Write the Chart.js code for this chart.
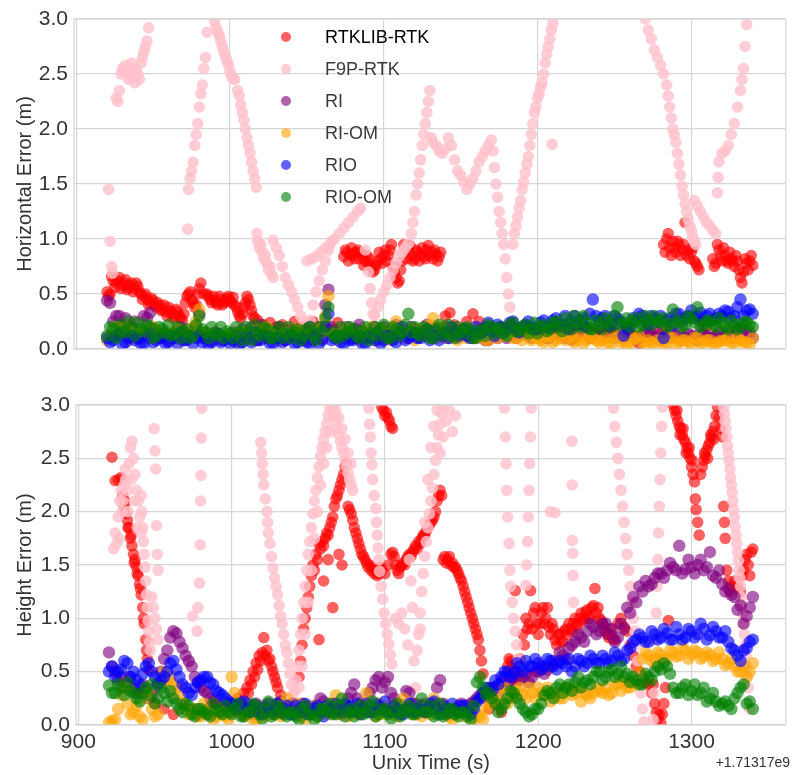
<!DOCTYPE html>
<html><head><meta charset="utf-8">
<script src="https://cdn.jsdelivr.net/npm/chart.js@4/dist/chart.umd.min.js"></script>
<style>
body{margin:0;background:#fff;width:792px;height:775px;position:relative;overflow:hidden;font-family:'Liberation Sans',Arial,sans-serif;}
#c1{position:absolute;left:0;top:0;}
#c2{position:absolute;left:0;top:380px;}
.li{position:absolute;left:281px;height:20px;display:flex;align-items:center;font-size:18px;color:#3a3a3a;white-space:nowrap;}
.dot{width:10px;height:10px;border-radius:50%;margin-right:34px;}
</style></head><body>
<canvas id="c1" width="792" height="380"></canvas>
<canvas id="c2" width="792" height="395"></canvas>
<div id="legend"></div>
<script>
// ---------- labels / ticks ----------
const seriesNames = ['RTKLIB-RTK','F9P-RTK','RI','RI-OM','RIO','RIO-OM'];
const xTickValues = [900,1000,1100,1200,1300];
const xTickLabels = ['900','1000','1100','1200','1300'];
const yTickValues = [0,0.5,1,1.5,2,2.5,3];
const yTickLabels = ['0.0','0.5','1.0','1.5','2.0','2.5','3.0'];
const topYTitle = 'Horizontal Error (m)';
const botYTitle = 'Height Error (m)';
const xTitle = 'Unix Time (s)';
const offsetLabel = '+1.71317e9';

// ---------- two interleaved time grids for the dense band series ----------
const T4 = [920,924,928,932,936,940,944,948,952,956,
960,964,968,972,976,980,984,988,992,996,
1000,1004,1008,1012,1016,1020,1024,1028,1032,1036,
1040,1044,1048,1052,1056,1060,1064,1068,1072,1076,
1080,1084,1088,1092,1096,1100,1104,1108,1112,1116,
1120,1124,1128,1132,1136,1140,1144,1148,1152,1156,
1160,1164,1168,1172,1176,1180,1184,1188,1192,1196,
1200,1204,1208,1212,1216,1220,1224,1228,1232,1236,
1240,1244,1248,1252,1256,1260,1264,1268,1272,1276,
1280,1284,1288,1292,1296,1300,1304,1308,1312,1316,
1320,1324,1328,1332,1336,1340];
const T4B = [922,926,930,934,938,942,946,950,954,958,
962,966,970,974,978,982,986,990,994,998,
1002,1006,1010,1014,1018,1022,1026,1030,1034,1038,
1042,1046,1050,1054,1058,1062,1066,1070,1074,1078,
1082,1086,1090,1094,1098,1102,1106,1110,1114,1118,
1122,1126,1130,1134,1138,1142,1146,1150,1154,1158,
1162,1166,1170,1174,1178,1182,1186,1190,1194,1198,
1202,1206,1210,1214,1218,1222,1226,1230,1234,1238,
1242,1246,1250,1254,1258,1262,1266,1270,1274,1278,
1282,1286,1290,1294,1298,1302,1306,1310,1314,1318,
1322,1326,1330,1334,1338];

// ---------- TOP: horizontal error ----------
const riTop = [0.44,0.25,0.3,0.28,0.2,0.15,0.3,0.33,0.15,0.1,
0.08,0.12,0.2,0.1,0.15,0.32,0.1,0.08,0.14,0.1,
0.12,0.08,0.18,0.1,0.12,0.22,0.1,0.16,0.2,0.08,
0.1,0.15,0.08,0.2,0.12,0.1,0.54,0.16,0.1,0.2,
0.14,0.22,0.1,0.16,0.08,0.2,0.12,0.22,0.14,0.1,
0.18,0.12,0.22,0.1,0.15,0.2,0.12,0.1,0.18,0.12,
0.1,0.14,0.08,0.12,0.18,0.1,0.15,0.12,0.2,0.1,
0.12,0.18,0.1,0.15,0.12,0.2,0.1,0.14,0.18,0.12,
0.15,0.1,0.18,0.12,0.1,0.15,0.08,0.12,0.2,0.1,
0.08,0.12,0.1,0.15,0.1,0.12,0.08,0.14,0.1,0.12,
0.1,0.15,0.12,0.2,0.14,0.1];
const riTopB = [0.42,0.3,0.22,0.18,0.25,0.1,0.28,0.18,0.12,0.15,
0.1,0.15,0.08,0.14,0.2,0.1,0.12,0.15,0.08,0.12,
0.15,0.1,0.12,0.2,0.08,0.14,0.18,0.1,0.12,0.15,
0.12,0.1,0.18,0.08,0.15,0.4,0.2,0.12,0.15,0.1,
0.18,0.1,0.14,0.2,0.12,0.16,0.1,0.18,0.12,0.2,
0.1,0.16,0.12,0.2,0.14,0.1,0.18,0.12,0.15,0.1,
0.12,0.08,0.15,0.1,0.14,0.12,0.1,0.16,0.12,0.15,
0.15,0.1,0.14,0.18,0.1,0.15,0.12,0.2,0.1,0.14,
0.12,0.18,0.1,0.15,0.2,0.12,0.1,0.16,0.12,0.15,
0.1,0.15,0.12,0.08,0.14,0.1,0.15,0.12,0.1,0.15,
0.12,0.1,0.18,0.12,0.15];
const riomTop = [0.08,0.12,0.15,0.2,0.1,0.14,0.18,0.1,0.16,0.12,
0.1,0.15,0.08,0.12,0.2,0.36,0.15,0.1,0.12,0.08,
0.12,0.06,0.15,0.1,0.08,0.14,0.2,0.12,0.08,0.15,
0.1,0.18,0.08,0.12,0.15,0.1,0.48,0.14,0.1,0.18,
0.12,0.08,0.15,0.2,0.1,0.14,0.08,0.25,0.12,0.15,
0.08,0.18,0.12,0.28,0.15,0.1,0.18,0.08,0.15,0.12,
0.1,0.15,0.08,0.12,0.2,0.14,0.1,0.15,0.12,0.08,
0.1,0.06,0.12,0.08,0.15,0.1,0.06,0.12,0.08,0.1,
0.06,0.1,0.05,0.12,0.08,0.05,0.1,0.06,0.08,0.04,
0.08,0.05,0.1,0.06,0.08,0.04,0.1,0.06,0.08,0.05,
0.07,0.1,0.05,0.08,0.06,0.1];
const riomTopB = [0.1,0.2,0.12,0.08,0.16,0.12,0.14,0.2,0.1,0.15,
0.12,0.18,0.1,0.15,0.25,0.12,0.08,0.14,0.1,0.12,
0.08,0.14,0.1,0.12,0.18,0.1,0.15,0.08,0.12,0.1,
0.14,0.1,0.12,0.08,0.18,0.3,0.12,0.08,0.15,0.1,
0.1,0.15,0.12,0.08,0.18,0.1,0.2,0.12,0.1,0.18,
0.12,0.15,0.22,0.1,0.2,0.14,0.12,0.18,0.1,0.12,
0.12,0.08,0.15,0.1,0.12,0.18,0.1,0.08,0.14,0.1,
0.08,0.12,0.06,0.1,0.08,0.12,0.08,0.05,0.12,0.08,
0.08,0.05,0.1,0.06,0.04,0.08,0.12,0.05,0.06,0.08,
0.05,0.1,0.04,0.08,0.06,0.1,0.05,0.08,0.04,0.07,
0.08,0.05,0.1,0.06,0.04];
const rioTop = [0.1,0.08,0.14,0.06,0.12,0.1,0.05,0.14,0.08,0.12,
0.06,0.1,0.15,0.08,0.05,0.12,0.1,0.06,0.14,0.08,
0.05,0.12,0.06,0.1,0.15,0.08,0.12,0.05,0.1,0.08,
0.12,0.06,0.1,0.05,0.14,0.08,0.32,0.1,0.06,0.12,
0.08,0.12,0.05,0.1,0.15,0.08,0.12,0.06,0.2,0.1,
0.15,0.1,0.18,0.12,0.08,0.15,0.2,0.12,0.18,0.1,
0.2,0.15,0.24,0.12,0.2,0.18,0.25,0.15,0.22,0.2,
0.18,0.26,0.2,0.28,0.22,0.18,0.3,0.26,0.2,0.45,
0.25,0.3,0.22,0.28,0.12,0.2,0.25,0.3,0.22,0.28,
0.3,0.26,0.22,0.32,0.28,0.35,0.3,0.25,0.32,0.28,
0.3,0.34,0.3,0.45,0.35,0.32];
const rioTopB = [0.06,0.12,0.04,0.1,0.08,0.05,0.12,0.06,0.1,0.05,
0.12,0.05,0.08,0.12,0.1,0.06,0.04,0.12,0.06,0.1,
0.08,0.04,0.12,0.06,0.08,0.12,0.05,0.1,0.06,0.12,
0.05,0.1,0.06,0.12,0.05,0.2,0.08,0.12,0.05,0.08,
0.1,0.05,0.12,0.08,0.05,0.12,0.08,0.14,0.08,0.12,
0.1,0.14,0.08,0.16,0.12,0.1,0.16,0.14,0.12,0.16,
0.14,0.2,0.16,0.22,0.15,0.24,0.18,0.2,0.25,0.18,
0.24,0.2,0.26,0.22,0.3,0.25,0.22,0.28,0.32,0.3,
0.28,0.22,0.3,0.25,0.2,0.28,0.32,0.26,0.3,0.25,
0.1,0.28,0.32,0.25,0.3,0.28,0.33,0.3,0.26,0.32,
0.35,0.28,0.38,0.3,0.36];
const rioomTop = [0.12,0.18,0.22,0.15,0.2,0.24,0.16,0.2,0.12,0.18,
0.22,0.14,0.1,0.18,0.12,0.3,0.15,0.2,0.12,0.1,
0.14,0.2,0.08,0.16,0.22,0.12,0.18,0.1,0.2,0.14,
0.1,0.18,0.12,0.2,0.08,0.16,0.38,0.12,0.2,0.15,
0.18,0.1,0.2,0.14,0.12,0.22,0.1,0.18,0.15,0.32,
0.2,0.12,0.18,0.1,0.22,0.15,0.12,0.2,0.14,0.18,
0.1,0.18,0.22,0.14,0.2,0.12,0.24,0.16,0.22,0.18,
0.14,0.22,0.18,0.25,0.16,0.22,0.3,0.2,0.24,0.18,
0.22,0.28,0.2,0.38,0.24,0.2,0.28,0.22,0.26,0.3,
0.24,0.2,0.36,0.26,0.22,0.28,0.38,0.22,0.25,0.2,
0.24,0.18,0.22,0.2,0.25,0.2];
const rioomTopB = [0.2,0.1,0.16,0.25,0.12,0.18,0.22,0.1,0.2,0.14,
0.12,0.2,0.16,0.1,0.22,0.18,0.1,0.14,0.2,0.16,
0.1,0.15,0.2,0.08,0.14,0.2,0.1,0.16,0.1,0.2,
0.15,0.08,0.18,0.12,0.2,0.28,0.15,0.1,0.12,0.2,
0.12,0.16,0.08,0.2,0.18,0.1,0.2,0.12,0.22,0.15,
0.14,0.2,0.1,0.18,0.12,0.22,0.1,0.16,0.2,0.1,
0.16,0.12,0.2,0.18,0.14,0.22,0.16,0.2,0.14,0.24,
0.2,0.16,0.24,0.2,0.28,0.18,0.24,0.3,0.18,0.26,
0.18,0.24,0.3,0.22,0.28,0.25,0.2,0.3,0.22,0.25,
0.28,0.22,0.25,0.2,0.3,0.24,0.2,0.26,0.22,0.28,
0.2,0.26,0.18,0.24,0.22];

const rtkTop = [[920,0.52],[921,0.48],[922,0.5],[923,0.66],[924,0.62],[925,0.56],[926,0.6],[927,0.62],[928,0.65],[929,0.55],[930,0.58],[931,0.6],[932,0.63],[933,0.54],[934,0.56],[935,0.58],[936,0.6],[937,0.52],[938,0.55],[939,0.6],[940,0.57],[941,0.52],[942,0.5],[943,0.45],[944,0.48],[945,0.5],[946,0.45],[947,0.4],[948,0.42],[949,0.46],[950,0.44],[951,0.4],[952,0.38],[953,0.42],[954,0.4],[955,0.35],[956,0.36],[957,0.4],[958,0.34],[959,0.3],[960,0.38],[961,0.35],[962,0.32],[963,0.28],[964,0.3],[965,0.36],[966,0.34],[967,0.3],[968,0.28],[969,0.26],[970,0.32],[971,0.42],[972,0.48],[973,0.5],[974,0.52],[975,0.45],[976,0.42],[977,0.38],[978,0.4],[979,0.5],[980,0.55],[981,0.6],[983,0.5],[985,0.5],[986,0.48],[987,0.45],[988,0.42],[989,0.48],[990,0.44],[991,0.42],[992,0.4],[993,0.48],[994,0.45],[995,0.4],[996,0.42],[997,0.44],[998,0.46],[999,0.48],[1000,0.44],[1001,0.42],[1002,0.47],[1003,0.4],[1004,0.38],[1005,0.34],[1006,0.3],[1007,0.28],[1008,0.32],[1009,0.38],[1010,0.42],[1011,0.48],[1012,0.45],[1013,0.4],[1014,0.35],[1015,0.3],[1016,0.28],[1018,0.26],[1022,0.22],[1026,0.24],[1030,0.2],[1034,0.22],[1038,0.18],[1042,0.25],[1046,0.2],[1050,0.22],[1054,0.25],[1058,0.2],[1062,0.22],[1066,0.18],[1070,0.24],
[1074,0.84],[1075,0.9],[1076,0.88],[1077,0.8],[1078,0.86],[1079,0.92],[1080,0.85],[1081,0.82],[1082,0.88],[1083,0.9],[1084,0.82],[1085,0.88],[1086,0.85],[1087,0.76],[1088,0.8],[1089,0.85],[1090,0.78],[1091,0.82],[1092,0.75],[1093,0.7],[1094,0.72],[1095,0.76],[1096,0.8],[1097,0.88],[1098,0.82],[1099,0.78],[1100,0.85],[1101,0.9],[1102,0.8],[1103,0.85],[1104,0.9],[1105,0.95],[1106,0.75],[1107,0.7],[1108,0.65],[1109,0.6],[1110,0.62],[1111,0.72],[1112,0.8],[1113,0.95],[1114,0.88],[1115,0.82],[1116,0.9],[1117,0.94],[1118,0.85],[1119,0.8],[1120,0.82],[1121,0.9],[1122,0.88],[1123,0.8],[1124,0.86],[1125,0.92],[1126,0.84],[1127,0.82],[1128,0.9],[1129,0.94],[1130,0.85],[1131,0.88],[1132,0.82],[1133,0.9],[1134,0.86],[1135,0.8],[1136,0.84],[1137,0.88],
[1140,0.3],[1143,0.33],[1146,0.22],[1150,0.18],[1154,0.25],[1158,0.32],[1162,0.25],[1166,0.15],[1170,0.2],[1174,0.12],[1178,0.18],[1182,0.22],[1186,0.15],[1190,0.2],[1194,0.12],[1198,0.18],[1202,0.1],[1206,0.15],[1210,0.2],[1214,0.12],[1218,0.18],[1222,0.08],[1226,0.15],[1230,0.2],[1234,0.1],[1238,0.16],[1242,0.12],[1246,0.18],[1250,0.15],[1254,0.1],[1258,0.2],[1262,0.12],[1266,0.05],[1270,0.1],[1274,0.15],[1278,0.12],[1281,0.2],
[1282,0.95],[1283,0.88],[1284,1.0],[1285,1.05],[1286,0.92],[1287,0.85],[1288,0.98],[1289,0.92],[1290,0.88],[1291,0.98],[1292,0.95],[1293,0.85],[1294,0.9],[1295,0.95],[1296,1.15],[1297,0.85],[1298,0.9],[1299,0.82],[1300,0.88],[1301,0.92],[1302,0.8],[1303,0.78],[1304,0.75],[1305,0.72],[1306,0.25],[1310,0.2],
[1314,0.82],[1315,0.75],[1316,0.78],[1317,0.95],[1318,0.9],[1319,0.85],[1320,0.8],[1321,0.92],[1322,0.85],[1323,0.8],[1324,0.78],[1325,0.88],[1326,0.82],[1327,0.8],[1328,0.75],[1329,0.85],[1330,0.8],[1331,0.72],[1332,0.65],[1333,0.6],[1334,0.7],[1335,0.82],[1336,0.78],[1337,0.72],[1338,0.8],[1339,0.85],[1340,0.76]];

const f9pTop = [[921,1.45],[922,0.98],[923,0.75],[923.5,0.69],
[926,2.28],[927,2.25],[928,2.35],[929,2.5],[930,2.55],[931,2.52],[932,2.58],[933,2.5],[934,2.45],[935,2.55],[936,2.6],[937,2.48],[938,2.42],[939,2.55],[940,2.5],[941,2.45],[942,2.6],[943,2.65],[944,2.7],[945,2.75],[946,2.8],[947,2.92],
[972.5,1.09],[973,1.45],[974,1.55],[975,1.62],[976,1.7],[977,1.85],[978,1.95],[979,2.05],[980,2.2],[981,2.32],[982,2.4],[983,2.55],[984,2.65],[985,2.88],
[990,2.98],[991,2.92],[992,2.88],[993,2.85],[994,2.8],[995,2.75],[996,2.7],[997,2.66],[998,2.62],[999,2.58],[1000,2.52],[1001,2.48],[1002,2.46],[1003,2.45],[1005,2.35],[1006,2.3],[1007,2.22],[1008,2.15],[1009,2.08],[1010,2.0],[1011,1.92],[1012,1.85],[1013,1.78],[1014,1.7],[1015,1.62],[1016,1.55],[1017,1.47],
[1017.5,1.05],[1018,0.98],[1019,0.92],[1020,0.95],[1021,0.88],[1022,0.82],[1023,0.85],[1024,0.78],[1025,0.72],[1026,0.75],[1027,0.68],[1028,0.65],
[1028,0.99],[1030,0.92],[1032,0.85],[1034,0.75],[1036,0.65],[1038,0.58],[1040,0.52],[1042,0.45],[1044,0.38],[1046,0.3],[1048,0.25],[1050,0.2],[1051,0.15],
[1052,0.26],[1054,0.4],[1056,0.52],[1058,0.62],[1060,0.72],[1062,0.8],[1064,0.9],[1066,0.98],
[1050,0.8],[1053,0.82],[1056,0.84],[1059,0.88],[1062,0.92],[1065,0.95],[1068,1.0],[1071,1.05],[1074,1.1],[1077,1.15],[1080,1.2],[1083,1.25],[1085,1.28],
[1088,0.9],[1090,0.7],[1091,0.55],[1092,0.42],[1093,0.32],[1094,0.3],[1096,0.38],[1098,0.45],[1100,0.52],[1102,0.58],[1104,0.65],[1106,0.72],[1108,0.78],[1110,0.84],[1112,0.88],[1114,0.92],[1116,0.96],[1118,1.05],[1119,1.15],[1120,1.25],[1121,1.4],[1122,1.5],[1123,1.6],[1124,1.72],[1125,1.85],[1126,1.95],[1127,2.05],[1128,2.15],[1129,2.25],[1130,2.35],
[1131,1.92],[1132,1.88],[1134,1.85],[1136,1.8],[1138,1.78],[1140,1.82],[1142,1.92],[1144,1.85],[1146,1.72],[1148,1.62],[1150,1.58],[1152,1.52],[1154,1.45],[1156,1.5],[1158,1.55],[1160,1.62],[1162,1.7],[1164,1.75],[1166,1.8],[1168,1.85],[1170,1.9],[1171,1.8],[1172,1.65],[1173,1.5],[1174,1.38],[1175,1.25],[1176,1.15],[1177,1.05],[1178,0.95],[1179,0.82],[1180,0.65],[1181,0.5],[1182,0.38],
[1184,0.95],[1185,1.05],[1186,1.12],[1187,1.2],[1188,1.28],[1189,1.35],[1190,1.45],[1191,1.52],[1192,1.6],[1193,1.68],[1194,1.75],[1195,1.85],[1196,1.95],[1197,2.05],[1198,2.15],[1199,2.2],[1200,2.28],[1201,2.32],[1202,2.38],[1203,2.42],[1204,2.5],[1205,2.6],[1206,2.68],[1207,2.75],[1208,2.82],[1209,2.9],[1210,2.96],[1209.5,1.86],
[1270,3.0],[1272,2.9],[1274,2.82],[1276,2.72],[1278,2.65],[1280,2.58],[1282,2.5],[1284,2.4],[1285,2.3],[1286,2.2],[1287,2.1],[1288,2.0],[1289,1.95],[1290,1.88],[1291,1.78],[1292,1.68],[1293,1.58],[1294,1.48],[1295,1.4],[1296,1.32],[1297,1.25],[1298,1.18],[1299,1.12],[1300,1.08],[1301,1.02],[1302,0.98],[1303,0.95],
[1302,1.35],[1304,1.3],[1306,1.25],[1308,1.2],[1310,1.15],[1312,1.12],[1314,1.08],[1316,1.05],
[1317,1.42],[1317.5,1.56],[1318,1.7],[1320,1.78],[1322,1.8],[1324,1.85],[1326,1.95],[1328,2.05],[1330,2.2],[1332,2.35],[1333,2.45],[1334,2.55],[1335,2.75],[1336,2.95]];

// ---------- BOTTOM: height error ----------
const riBot = [0.68,0.5,0.45,0.4,0.35,0.3,0.32,0.28,0.4,0.62,
0.82,0.86,0.72,0.6,0.45,0.35,0.3,0.22,0.18,0.15,
0.12,0.18,0.1,0.15,0.2,0.12,0.15,0.1,0.22,0.15,
0.2,0.12,0.18,0.1,0.15,0.22,0.12,0.18,0.1,0.25,
0.38,0.2,0.15,0.35,0.45,0.4,0.3,0.2,0.15,0.3,
0.2,0.15,0.12,0.2,0.42,0.15,0.1,0.18,0.12,0.2,
0.25,0.3,0.28,0.35,0.4,0.38,0.45,0.42,0.48,0.45,
0.5,0.48,0.55,0.58,0.65,0.72,0.78,0.82,0.88,0.92,
0.88,0.95,0.9,0.82,0.9,1.05,1.15,1.25,1.3,1.38,
1.42,1.45,1.48,1.68,1.46,1.48,1.5,1.45,1.62,1.38,
1.32,1.28,1.2,1.12,1.02,1.2];
const riBotB = [0.55,0.42,0.35,0.45,0.3,0.38,0.25,0.35,0.5,0.7,
0.88,0.78,0.65,0.55,0.4,0.32,0.25,0.2,0.15,0.2,
0.15,0.12,0.2,0.1,0.15,0.18,0.12,0.2,0.12,0.18,
0.15,0.2,0.12,0.18,0.25,0.15,0.2,0.12,0.18,0.3,
0.25,0.18,0.3,0.42,0.35,0.45,0.25,0.18,0.32,0.2,
0.15,0.2,0.18,0.35,0.2,0.12,0.15,0.2,0.15,0.22,
0.28,0.25,0.35,0.3,0.45,0.4,0.5,0.45,0.4,0.5,
0.55,0.52,0.6,0.68,0.62,0.75,0.85,0.78,0.95,0.85,
0.95,0.85,0.78,0.95,1.1,1.2,1.3,1.35,1.32,1.42,
1.38,1.52,1.45,1.42,1.55,1.42,1.55,1.48,1.4,1.45,
1.25,1.22,1.08,0.95,1.1];
const riomBot = [0.02,0.05,0.28,0.2,0.12,0.08,0.25,0.15,0.1,0.5,
0.45,0.35,0.2,0.1,0.15,0.08,0.12,0.05,0.1,0.08,
0.45,0.15,0.08,0.12,0.05,0.1,0.2,0.12,0.08,0.25,
0.1,0.2,0.05,0.12,0.08,0.15,0.1,0.28,0.12,0.08,
0.15,0.1,0.3,0.12,0.2,0.1,0.15,0.08,0.25,0.12,
0.1,0.08,0.2,0.25,0.15,0.1,0.05,0.12,0.08,0.15,
0.1,0.05,0.2,0.25,0.3,0.2,0.28,0.35,0.25,0.3,
0.35,0.28,0.22,0.3,0.25,0.32,0.3,0.22,0.28,0.3,
0.32,0.35,0.3,0.38,0.4,0.35,0.38,0.62,0.65,0.62,
0.66,0.62,0.68,0.65,0.7,0.66,0.68,0.64,0.66,0.62,
0.62,0.58,0.55,0.5,0.45,0.58];
const riomBotB = [0.04,0.15,0.35,0.1,0.18,0.05,0.3,0.08,0.4,0.42,
0.38,0.28,0.15,0.12,0.08,0.2,0.1,0.08,0.12,0.05,
0.3,0.12,0.1,0.05,0.15,0.08,0.12,0.1,0.2,0.12,
0.15,0.08,0.12,0.18,0.1,0.12,0.2,0.1,0.15,0.12,
0.1,0.2,0.15,0.08,0.12,0.18,0.1,0.2,0.15,0.1,
0.12,0.15,0.1,0.2,0.12,0.08,0.1,0.15,0.1,0.05,
0.08,0.15,0.25,0.2,0.35,0.25,0.32,0.28,0.35,0.25,
0.3,0.35,0.28,0.25,0.35,0.28,0.35,0.3,0.25,0.35,
0.3,0.28,0.38,0.32,0.35,0.4,0.5,0.68,0.6,0.68,
0.62,0.7,0.64,0.72,0.62,0.7,0.62,0.68,0.6,0.68,
0.56,0.62,0.5,0.55,0.5];
const rioBot = [0.5,0.45,0.52,0.58,0.5,0.38,0.55,0.5,0.38,0.45,
0.58,0.52,0.38,0.3,0.35,0.42,0.45,0.38,0.3,0.25,
0.2,0.15,0.22,0.12,0.18,0.1,0.2,0.15,0.12,0.18,
0.1,0.15,0.2,0.12,0.18,0.08,0.15,0.2,0.12,0.18,
0.15,0.1,0.2,0.12,0.18,0.22,0.12,0.15,0.1,0.2,
0.12,0.18,0.15,0.22,0.1,0.15,0.2,0.12,0.18,0.1,
0.22,0.3,0.35,0.42,0.45,0.5,0.48,0.55,0.6,0.55,
0.58,0.55,0.6,0.52,0.58,0.62,0.55,0.6,0.58,0.62,
0.58,0.62,0.6,0.65,0.62,0.72,0.8,0.82,0.78,0.85,
0.82,0.86,0.8,0.85,0.82,0.88,0.85,0.9,0.84,0.88,
0.82,0.78,0.7,0.6,0.72,0.8];
const rioBotB = [0.55,0.5,0.6,0.45,0.42,0.48,0.58,0.45,0.42,0.5,
0.6,0.45,0.35,0.28,0.4,0.45,0.4,0.32,0.28,0.22,
0.18,0.2,0.15,0.18,0.12,0.16,0.12,0.2,0.15,0.1,
0.18,0.12,0.1,0.16,0.12,0.18,0.12,0.15,0.2,0.12,
0.2,0.15,0.12,0.2,0.15,0.12,0.18,0.1,0.15,0.12,
0.15,0.12,0.2,0.15,0.18,0.12,0.15,0.18,0.12,0.15,
0.25,0.35,0.32,0.38,0.5,0.45,0.58,0.5,0.55,0.62,
0.52,0.62,0.55,0.6,0.55,0.5,0.62,0.55,0.65,0.58,
0.65,0.58,0.68,0.6,0.7,0.78,0.85,0.78,0.88,0.8,
0.9,0.8,0.92,0.8,0.9,0.82,0.95,0.8,0.92,0.82,
0.88,0.72,0.65,0.7,0.78];
const rioomBot = [0.37,0.3,0.35,0.4,0.3,0.22,0.35,0.38,0.25,0.3,
0.32,0.2,0.12,0.18,0.08,0.15,0.1,0.2,0.12,0.18,
0.1,0.2,0.08,0.12,0.18,0.06,0.22,0.1,0.15,0.08,
0.12,0.05,0.18,0.1,0.08,0.15,0.2,0.1,0.25,0.12,
0.08,0.18,0.12,0.22,0.1,0.15,0.06,0.2,0.12,0.18,
0.1,0.25,0.12,0.08,0.2,0.1,0.15,0.08,0.12,0.05,
0.4,0.35,0.3,0.2,0.15,0.25,0.3,0.2,0.12,0.1,
0.15,0.28,0.3,0.35,0.3,0.38,0.4,0.35,0.42,0.45,
0.5,0.45,0.52,0.48,0.45,0.4,0.42,0.38,0.45,0.5,
0.52,0.55,0.35,0.3,0.38,0.32,0.28,0.35,0.25,0.22,
0.2,0.18,0.25,0.35,0.2,0.15];
const rioomBotB = [0.3,0.38,0.28,0.32,0.25,0.3,0.28,0.2,0.35,0.22,
0.25,0.15,0.2,0.1,0.15,0.12,0.08,0.15,0.1,0.12,
0.15,0.08,0.12,0.2,0.1,0.15,0.08,0.18,0.1,0.12,
0.08,0.15,0.1,0.05,0.15,0.12,0.1,0.18,0.08,0.15,
0.12,0.1,0.18,0.08,0.15,0.1,0.12,0.08,0.15,0.1,
0.15,0.12,0.18,0.1,0.08,0.15,0.1,0.12,0.08,0.18,
0.45,0.28,0.25,0.12,0.2,0.32,0.25,0.15,0.08,0.15,
0.2,0.32,0.25,0.38,0.35,0.32,0.45,0.4,0.38,0.5,
0.42,0.5,0.45,0.55,0.48,0.45,0.38,0.48,0.42,0.55,
0.58,0.48,0.3,0.35,0.28,0.38,0.3,0.22,0.3,0.18,
0.22,0.15,0.3,0.38,0.22];

const rtkBot = [[922,2.51],[924,2.29],[926,2.3],[928,2.32],[929,2.15],[930,2.05],[930.5,2.1],[931,1.98],[932,1.92],[932.5,1.85],[933,1.85],[934,1.75],[934.5,1.78],[935,1.68],[936,1.6],[936.5,1.52],[937,1.55],[938,1.48],[938.5,1.42],[939,1.4],[940,1.32],[940.5,1.28],[941,1.22],[942,1.1],[942.5,1.0],[943,0.95],[944,0.8],[944.5,0.7],[945,0.62],[946,0.52],
[950,0.2],[956,0.15],[962,0.1],[968,0.2],[974,0.15],[980,0.1],[986,0.18],[992,0.12],[998,0.2],[1004,0.25],
[1008,0.3],[1010,0.35],[1011,0.3],[1012,0.42],[1013,0.38],[1014,0.5],[1015,0.45],[1016,0.58],[1017,0.52],[1018,0.65],[1019,0.6],[1020,0.68],[1021,0.82],[1022,0.65],[1023,0.7],[1024,0.6],[1025,0.62],[1026,0.55],[1027,0.5],[1028,0.45],[1029,0.4],[1030,0.35],[1032,0.28],[1036,0.15],[1040,0.12],
[1044,0.45],[1045,0.6],[1046,0.75],[1047,0.9],[1048,1.0],[1049,1.1],[1050,1.2],[1051,1.3],[1052,1.4],[1053,1.5],[1054,1.45],[1055,1.6],[1056,1.55],[1057,1.7],[1058,1.65],[1059,1.72],[1060,1.68],[1061,1.75],[1062,1.8],[1063,1.78],[1064,1.85],[1065,1.9],[1066,1.95],[1067,2.05],[1068,2.12],[1069,2.15],[1070,2.2],[1071,2.25],[1072,2.3],[1073,2.35],[1074,2.42],[1075,2.45],
[1057,0.8],[1066,1.1],[1063,1.55],[1070,1.6],[1072,1.5],[1060,1.35],
[1076,2.05],[1077,2.02],[1078,1.98],[1079,1.92],[1080,1.85],[1081,1.8],[1082,1.75],[1083,1.7],[1084,1.65],[1085,1.6],[1086,1.58],[1087,1.55],[1088,1.52],[1089,1.48],[1090,1.5],[1091,1.45],[1092,1.48],[1093,1.42],[1094,1.45],[1095,1.4],[1096,1.42],[1097,1.48],[1098,1.45],[1100,1.42],[1102,1.5],[1104,1.6],[1105,1.62],[1106,1.58],[1107,1.5],[1108,1.45],[1109,1.42],[1110,1.48],[1111,1.5],[1112,1.52],[1113,1.5],[1114,1.55],[1115,1.58],[1116,1.6],[1117,1.58],[1118,1.62],[1119,1.65],[1120,1.68],[1121,1.65],[1122,1.72],[1123,1.7],[1124,1.75],[1125,1.78],[1126,1.78],[1127,1.82],[1128,1.85],[1129,1.88],[1130,1.9],[1131,1.92],[1132,1.95],[1133,2.0],[1134,2.1],[1135,2.15],[1136,2.2],[1137,2.15],
[1098,2.98],[1099,2.95],[1100,2.9],[1101,2.93],[1102,2.88],[1103,2.85],[1104,2.8],[1105,2.78],
[1138,1.55],[1139,1.58],[1140,1.52],[1141,1.55],[1142,1.58],[1143,1.5],[1144,1.52],[1145,1.48],[1146,1.48],[1147,1.45],[1148,1.42],[1149,1.38],[1150,1.35],[1151,1.3],[1152,1.25],[1153,1.2],[1154,1.15],[1155,1.1],[1156,1.05],[1157,1.0],[1158,0.95],[1159,0.9],[1160,0.85],[1161,0.8],[1162,0.7],[1163,0.6],[1164,0.48],
[1168,0.15],[1172,0.2],[1176,0.12],
[1180,0.55],[1181,0.62],[1182,0.6],[1183,0.58],[1184,0.5],[1186,0.42],[1185,1.26],
[1188,0.62],[1190,0.85],[1191,0.75],[1192,1.0],[1193,0.9],[1194,0.95],[1195,1.26],[1196,0.9],[1197,1.05],[1198,1.1],[1199,0.95],[1200,0.85],[1201,0.95],[1202,1.05],[1203,1.1],[1204,0.95],[1205,1.0],[1206,1.1],[1207,0.92],[1208,0.85],[1209,0.95],[1210,0.9],[1211,0.8],[1212,0.75],[1213,0.85],[1214,0.85],[1215,0.78],[1216,0.78],[1217,0.88],[1218,0.9],[1219,0.85],[1220,0.95],[1221,0.9],[1222,0.88],[1223,0.95],[1224,1.0],[1225,0.92],[1226,0.95],[1227,1.0],[1228,1.05],[1229,0.98],[1230,1.0],[1231,1.06],[1232,1.08],[1233,1.0],[1234,1.02],[1235,1.1],[1236,1.12],[1237,1.28],[1238,1.05],[1239,1.1],[1240,1.0],[1241,0.98],[1242,0.95],[1243,0.9],[1244,0.88],[1245,0.85],[1246,0.82],[1247,0.9],[1248,0.85],[1249,0.8],[1250,0.8],[1252,0.95],[1254,1.0],[1256,0.92],[1258,0.88],[1260,0.75],[1262,0.65],[1264,0.55],[1266,0.5],[1268,0.45],[1270,0.4],[1272,0.38],[1274,0.3],[1275,0.38],[1276,0.2],[1277,0.12],[1278,0.05],[1279,0.1],[1280,0.02],[1281,0.1],[1282,0.2],[1283,0.35],[1285,0.98],
[1288,3.0],[1289,2.95],[1290,2.9],[1290.5,2.95],[1291,2.85],[1292,2.8],[1292.5,2.72],[1293,2.78],[1294,2.72],[1294.5,2.78],[1295,2.68],[1296,2.65],[1296.5,2.55],[1297,2.6],[1298,2.55],[1298.5,2.6],[1299,2.5],[1300,2.42],[1300.5,2.48],[1301,2.35],[1302,2.28],[1302.5,2.12],[1303,2.02],[1304,1.9],[1305,1.78],[1306,2.35],[1307,2.42],[1308,2.48],[1308.5,2.55],[1309,2.52],[1310,2.58],[1310.5,2.5],[1311,2.62],[1312,2.65],[1312.5,2.72],[1313,2.7],[1314,2.75],[1314.5,2.68],[1315,2.8],[1316,2.9],[1317,2.98],[1318,2.88],[1319,2.78],[1320,2.7],[1321,2.05],[1321.5,1.9],[1322,1.75],[1323,1.45],[1324,1.35],[1325,1.25],[1326,1.3],[1328,1.35],[1330,1.3],[1332,1.25],[1333,1.4],[1334,1.45],[1335,1.55],[1336,1.6],[1337,1.5],[1338,1.4],[1339,1.62],[1340,1.65]];

const f9pBot = [[923,1.65],[924,1.8],[925,1.7],[926,1.95],[926.5,1.75],[927,2.1],[928,2.2],[928.5,2.0],[929,2.1],[930,2.25],[930.5,2.4],[931,2.3],[932,2.2],[932.5,2.0],[933,2.45],[934,2.6],[934.5,2.3],[935,2.66],[936,2.5],[936.5,2.1],[937,2.35],[938,2.2],[938.5,1.85],[939,2.1],[940,1.95],[941,1.8],
[941,2.15],[941.5,2.0],[942,1.85],[942.5,1.72],[943,1.6],[943.5,1.48],[944,1.35],[944.5,1.22],[945,1.1],[945.5,0.98],[946,0.88],[946.5,0.78],[947,0.7],
[948,1.2],[949,1.1],[950,1.0],[951,0.9],[952,0.8],
[949.5,2.78],[950,2.57],[950.5,2.4],[951,1.87],[951.5,1.6],[952,1.45],
[956,0.4],[960,0.3],[964,0.25],[968,0.35],[972,0.6],
[974.5,1.02],[977.5,0.88],[978,1.1],[979,1.33],[979.5,1.69],[979.7,2.1],[980,2.34],[980.2,2.69],[980.5,2.97],
[1019,2.65],[1019.5,2.55],[1020,2.45],[1020.5,2.35],[1021,2.25],[1022,2.12],[1023,2.0],[1023.5,1.9],[1024,1.8],[1025,1.7],[1026,1.58],[1027,1.47],[1028,1.38],[1029,1.3],[1030,1.22],[1031,1.12],[1032,1.02],[1033,0.95],[1034,0.85],[1035,0.75],[1036,0.68],[1037,0.58],[1038,0.48],[1039,0.38],[1040,0.28],
[1041,0.32],[1042,0.42],[1043,0.55],[1044,0.7],[1045,0.85],[1046,1.0],[1047,1.15],[1048,1.3],[1049,1.45],[1050,1.6],[1051,1.72],[1052,1.85],[1053,1.98],[1054,2.1],[1055,2.2],[1056,2.32],[1057,2.42],[1058,2.52],[1059,2.6],[1060,2.68],[1061,2.75],[1062,2.82],[1063,2.9],[1064,2.97],
[1044,0.35],[1046,0.55],[1048,0.85],[1050,1.15],[1052,1.45],[1054,1.75],[1056,2.0],[1058,2.25],[1060,2.45],[1062,2.6],[1064,2.75],[1066,2.9],
[1066,2.98],[1067,2.9],[1068,2.85],[1069,2.78],[1070,2.72],[1071,2.66],[1072,2.6],[1073,2.55],[1074,2.48],[1075,2.42],[1076,2.36],[1077,2.3],[1078,2.25],[1079,2.2],
[1068,2.95],[1070,2.88],[1072,2.78],[1074,2.68],[1076,2.55],[1078,2.45],
[1089.5,2.97],[1090,2.82],[1090.5,2.7],[1091,2.55],[1091.5,2.44],[1092,2.3],[1093,2.15],[1094,2.03],[1094.5,1.9],[1095,1.78],[1095.5,1.66],[1096,1.55],[1096.5,1.44],[1097.5,1.3],[1098.5,1.18],[1099.5,1.05],[1100.5,0.95],[1101.5,0.85],[1102.5,0.76],[1103.5,0.66],[1104.5,0.57],
[1107,1.0],[1109,0.95],[1111,1.05],[1113,0.9],[1115,0.75],[1116,1.55],[1117,1.35],[1118,1.1],[1119,0.6],[1120,0.35],[1121,0.1],[1121,0.7],[1123,0.9],
[1122,0.85],[1123,1.05],[1124,1.25],[1125,1.42],[1126,1.58],[1127,1.72],[1128,1.85],[1129,1.98],[1130,2.1],[1131,2.22],[1132,2.35],[1133,2.48],[1134,2.6],[1135,2.72],[1136,2.82],[1137,2.92],[1138,2.98],
[1126,1.9],[1128,2.3],[1130,2.6],[1132,2.8],[1134,2.95],[1136,2.55],[1138,2.7],[1140,2.85],[1142,2.95],[1144,2.75],[1146,2.9],
[1178,2.97],[1178.5,2.7],[1179,2.45],[1179.5,2.2],[1180,1.95],[1181,1.7],[1181.5,1.45],[1182,1.3],[1183,1.15],[1184,1.0],[1185,0.88],[1186,0.75],[1187,0.62],
[1192,1.31],[1192.5,1.5],[1193,1.72],[1193.5,1.95],[1194,2.2],[1194.5,2.45],[1195,2.7],[1195.5,2.97],
[1208,2.0],[1211,1.99],[1222,2.66],[1222.2,2.25],[1222.3,1.73],[1222.5,1.61],[1222.7,1.4],[1223,1.15],
[1249,2.97],[1250,2.8],[1251,2.65],[1252,2.5],[1253,2.35],[1254,2.2],[1255,2.05],[1256,1.9],[1257,1.75],[1258,1.6],[1259,1.45],[1260,1.3],[1261,1.15],[1262,1.0],[1263,0.88],[1264,0.75],[1265,0.6],[1266,0.45],[1267,0.3],[1268,0.15],[1269,0.03],
[1275,0.05],[1275.5,0.3],[1276,0.55],[1276.5,0.8],[1277,1.05],[1277.5,1.3],[1278,1.55],[1278.5,1.8],[1279,2.05],[1279.5,2.3],[1280,2.55],[1280.5,2.8],[1281,2.98],
[1321,2.98],[1321.5,2.92],[1322,2.85],[1322.5,2.78],[1323,2.7],[1323.5,2.62],[1324,2.55],[1324.5,2.48],[1325,2.4],[1325.5,2.32],[1326,2.25],[1326.5,2.18],[1327,2.1],[1327.5,2.02],[1328,1.95],[1328.5,1.86],[1329,1.78],[1329.5,1.7],[1330,1.62],[1330.5,1.54],[1331,1.45],[1331.5,1.38],[1332,1.3],[1332.5,1.2],[1333,1.12],[1333.5,1.04],[1334,0.95],[1334.5,0.85],[1335,0.75],[1335.5,0.65],[1336,0.55],[1336.5,0.45],[1337,0.35],[1338,0.15]];

// ---------- styling ----------
const seriesColors = ['rgba(255,0,0,0.62)','rgba(255,192,203,0.8)','rgba(128,0,128,0.62)','rgba(255,165,0,0.62)','rgba(0,0,255,0.62)','rgba(0,128,0,0.62)'];
const seriesRadius = [5.8, 5.8, 6.2, 6.2, 6.2, 6.2];
const FONT = "'Liberation Sans', Arial, sans-serif";
const GRID = '#d6d6d6';
const TXT = '#333333';

function fromPairs(arr){ return arr.map(p => ({x:p[0], y:p[1]})); }
function fromGrids(a, b){
  return T4.map((t,i) => ({x:t, y:a[i]})).concat(T4B.map((t,i) => ({x:t, y:b[i]})));
}

function makeDatasets(series){
  return series.map((data,i) => ({
    label: seriesNames[i],
    data: data,
    backgroundColor: seriesColors[i],
    borderWidth: 0,
    pointRadius: seriesRadius[i],
    pointHoverRadius: seriesRadius[i],
    order: 6 - i,
    clip: 0
  }));
}

const framePlugin = {
  id: 'frame',
  afterDatasetsDraw(chart){
    const a = chart.chartArea, ctx = chart.ctx;
    ctx.save(); ctx.strokeStyle = GRID; ctx.lineWidth = 1.2;
    ctx.strokeRect(a.left, a.top, a.right - a.left, a.bottom - a.top);
    ctx.restore();
  }
};
const offsetPlugin = {
  id: 'offsetText',
  afterDraw(chart){
    const ctx = chart.ctx;
    ctx.save(); ctx.fillStyle = TXT; ctx.font = '14px ' + FONT;
    ctx.textAlign = 'right'; ctx.textBaseline = 'middle';
    ctx.fillText(offsetLabel, 790, 383);
    ctx.restore();
  }
};

function makeOptions(isBottom, yTitle, yWidth, pad){
  return {
    responsive: false, animation: false, devicePixelRatio: 1,
    layout: { padding: pad },
    plugins: { legend: {display:false}, tooltip: {enabled:false} },
    events: [],
    scales: {
      x: {
        type: 'linear', min: 898.5, max: 1361.5,
        afterBuildTicks: s => { s.ticks = xTickValues.map(v => ({value:v})); },
        afterFit: s => { s.height = isBottom ? 50 : 0; },
        grid: { color: GRID, lineWidth: 1.2, drawTicks: false },
        border: { display: false },
        ticks: { display: isBottom, includeBounds: false, padding: 5, color: TXT,
                 font: { family: FONT, size: 21 }, maxRotation: 0,
                 callback: (v, i) => xTickLabels[i] },
        title: { display: isBottom, text: xTitle, color: TXT,
                 font: { family: FONT, size: 20 }, padding: { top: 1, bottom: 0 } }
      },
      y: {
        type: 'linear', min: 0, max: 3,
        afterBuildTicks: s => { s.ticks = yTickValues.map(v => ({value:v})); },
        afterFit: s => { s.width = yWidth; },
        grid: { color: GRID, lineWidth: 1.2, drawTicks: false },
        border: { display: false },
        ticks: { padding: 6, color: TXT, font: { family: FONT, size: 21 },
                 callback: (v, i) => yTickLabels[i] },
        title: { display: true, text: yTitle, color: TXT,
                 font: { family: FONT, size: 20 }, padding: { top: 13, bottom: 0 } }
      }
    }
  };
}

new Chart(document.getElementById('c1'), {
  type: 'scatter',
  data: { datasets: makeDatasets([fromPairs(rtkTop), fromPairs(f9pTop), fromGrids(riTop, riTopB), fromGrids(riomTop, riomTopB), fromGrids(rioTop, rioTopB), fromGrids(rioomTop, rioomTopB)]) },
  options: makeOptions(false, topYTitle, 74, {top:19, right:3, bottom:31, left:0}),
  plugins: [framePlugin]
});
new Chart(document.getElementById('c2'), {
  type: 'scatter',
  data: { datasets: makeDatasets([fromPairs(rtkBot), fromPairs(f9pBot), fromGrids(riBot, riBotB), fromGrids(riomBot, riomBotB), fromGrids(rioBot, rioBotB), fromGrids(rioomBot, rioomBotB)]) },
  options: makeOptions(true, botYTitle, 76, {top:25, right:3, bottom:0, left:0}),
  plugins: [framePlugin, offsetPlugin]
});

// ---------- legend (HTML, real text) ----------
const legendRows = [37, 69, 101, 133, 165, 197];
const lg = document.getElementById('legend');
seriesNames.forEach((name, i) => {
  const row = document.createElement('div');
  row.className = 'li';
  row.style.top = (legendRows[i] - 10) + 'px';
  if (i === 0) row.style.color = '#000';
  const d = document.createElement('span');
  d.className = 'dot'; d.style.background = seriesColors[i];
  row.appendChild(d);
  row.appendChild(document.createTextNode(name));
  lg.appendChild(row);
});
</script>
</body></html>
